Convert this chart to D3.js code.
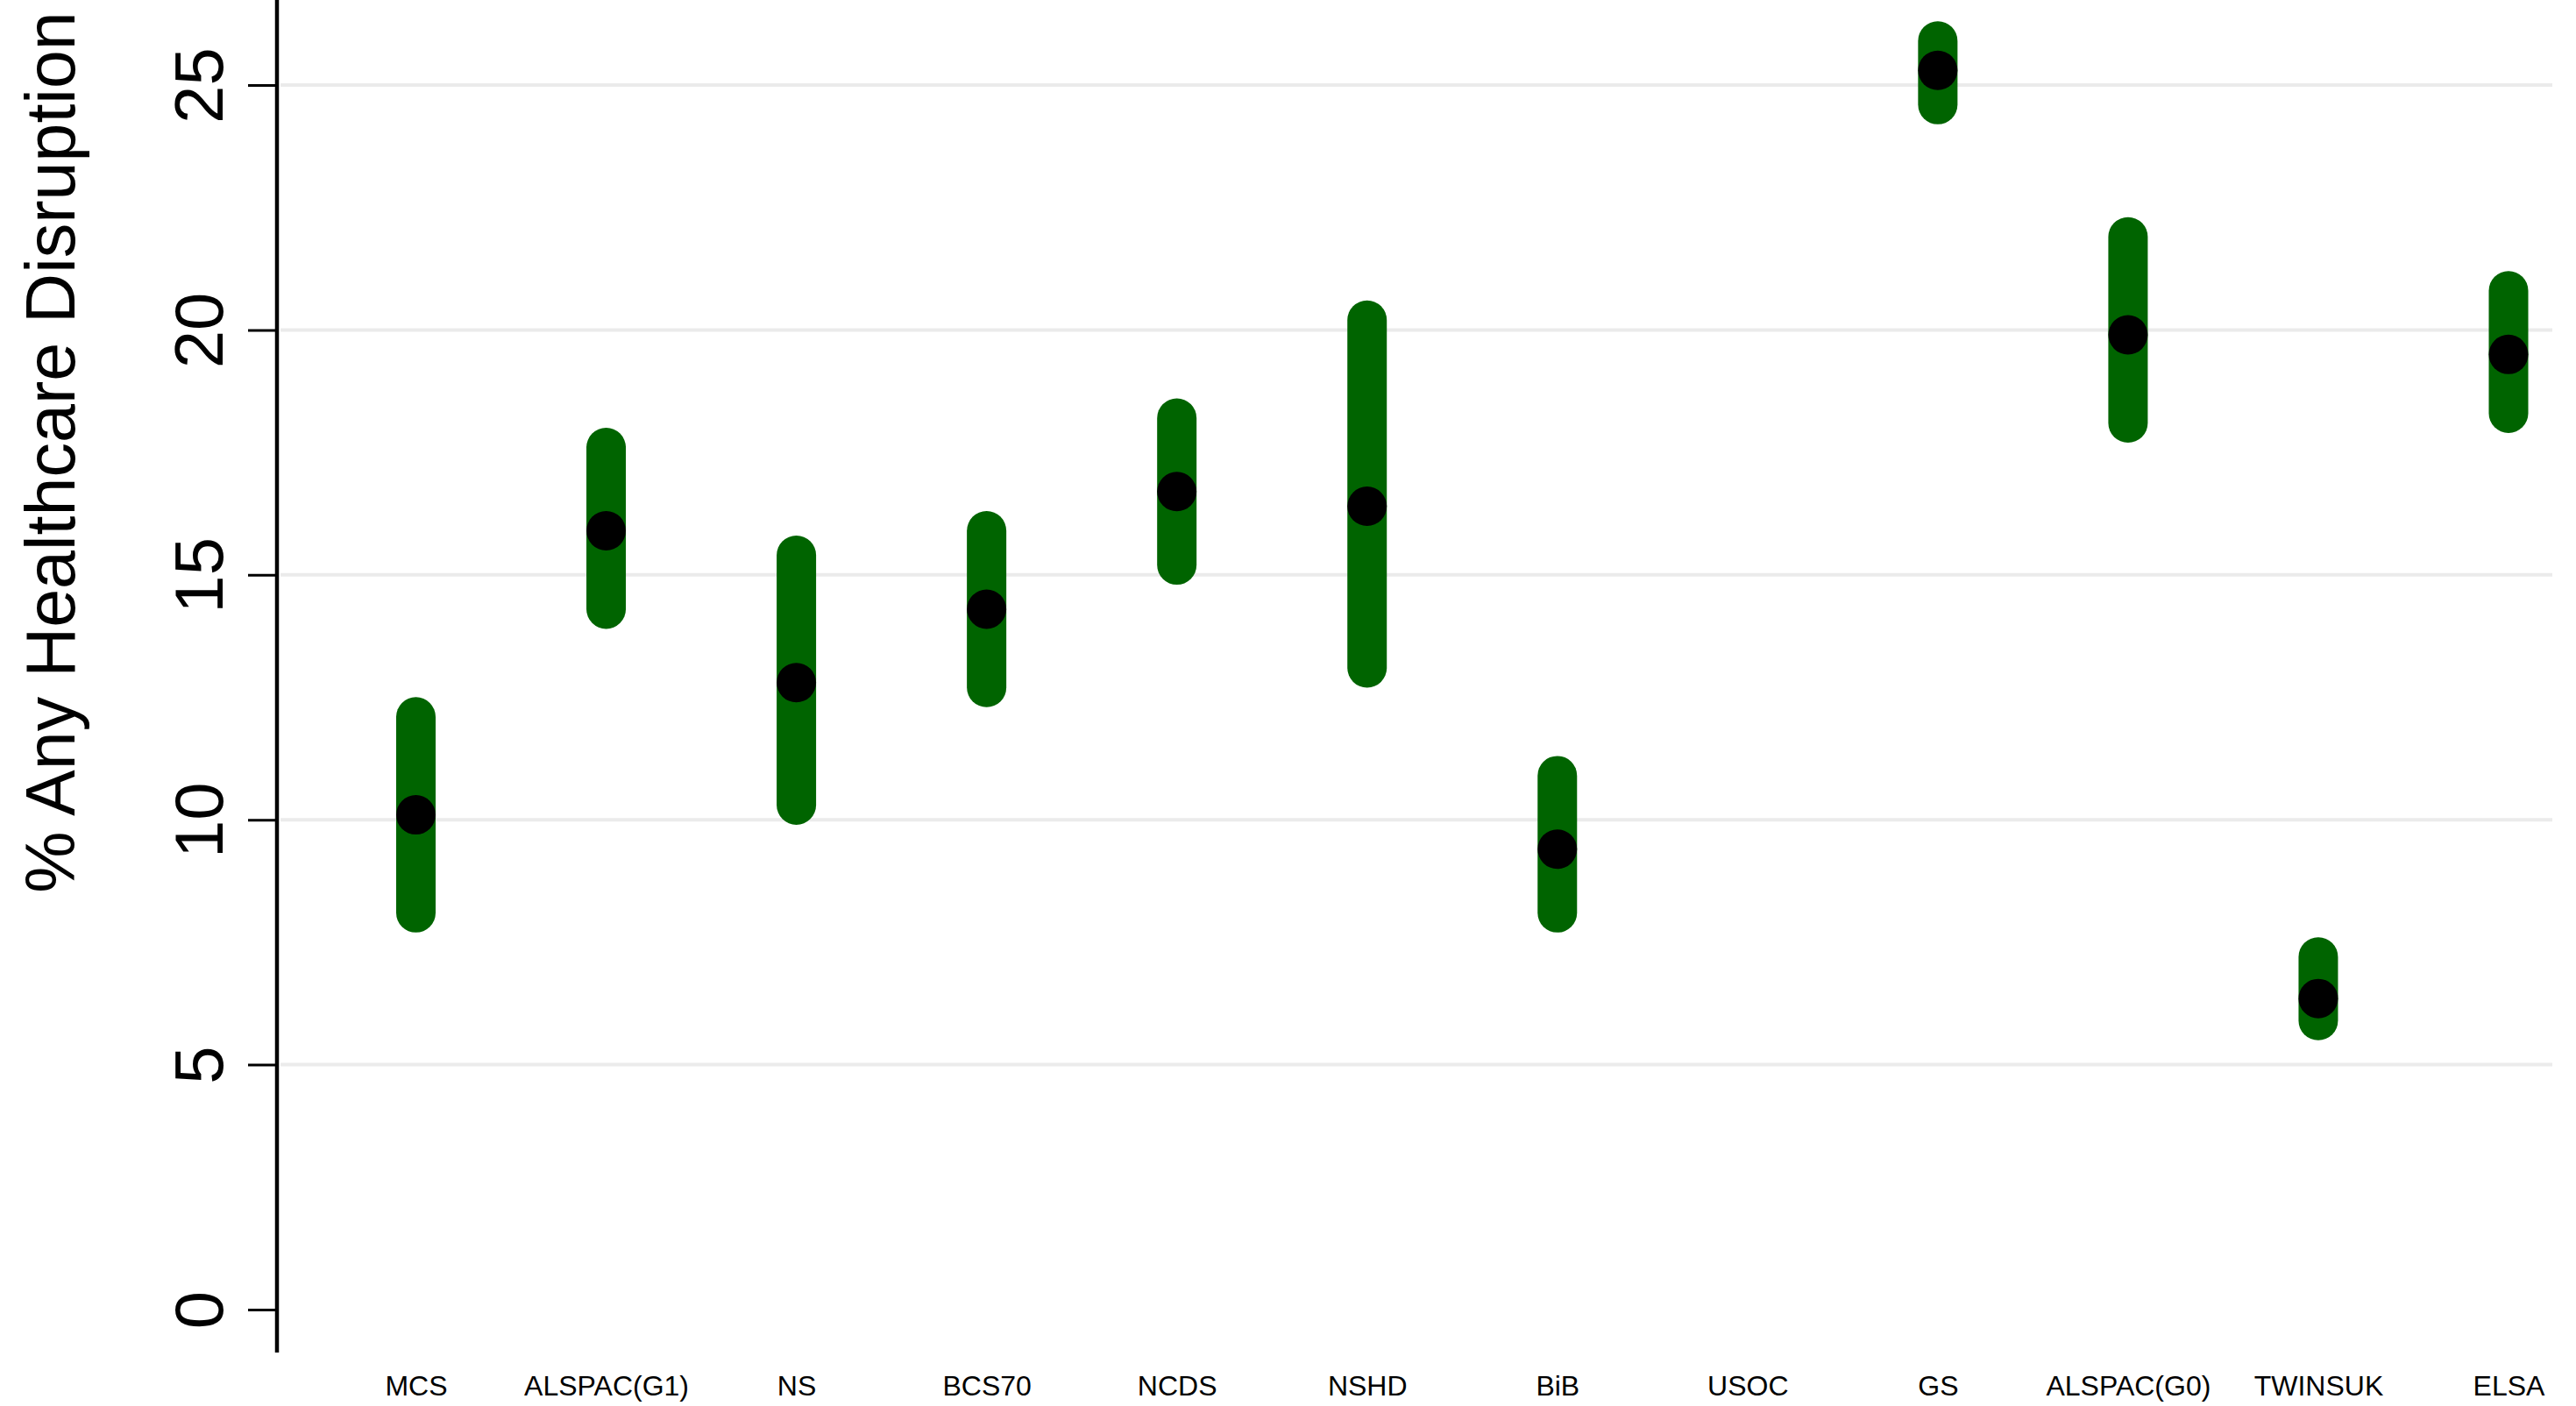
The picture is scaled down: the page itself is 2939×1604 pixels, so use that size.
<!DOCTYPE html>
<html>
<head>
<meta charset="utf-8">
<script src="https://cdn.jsdelivr.net/npm/d3@7"></script>
<style>
  html, body { margin: 0; padding: 0; background: #ffffff; }
  svg { display: block; }
  text { font-family: "Liberation Sans", Arial, sans-serif; fill: #000; }
</style>
</head>
<body>
<svg id="chart" width="2939" height="1604"></svg>
<script>
// ---- data ----
const categories = ["MCS", "ALSPAC(G1)", "NS", "BCS70", "NCDS", "NSHD", "BiB", "USOC", "GS", "ALSPAC(G0)", "TWINSUK", "ELSA"];
const estimates  = [10.1, 15.9, 12.8, 14.3, 16.7, 16.4, 9.4, null, 25.3, 19.9, 6.35, 19.5];
const ciLower    = [8.1, 14.3, 10.3, 12.7, 15.2, 13.1, 8.1, null, 24.6, 18.1, 5.9, 18.3];
const ciUpper    = [12.1, 17.6, 15.4, 15.9, 18.2, 20.2, 10.9, null, 25.9, 21.9, 7.2, 20.8];
const yTicks     = [0, 5, 10, 15, 20, 25];
const gridTicks  = [5, 10, 15, 20, 25];
const yTitle     = "% Any Healthcare Disruption";

const rows = categories.map((c, i) => ({ cat: c, est: estimates[i], lo: ciLower[i], hi: ciUpper[i] }))
                       .filter(d => d.est !== null);

const svg = d3.select("#chart");

const x = d3.scalePoint().domain(categories).range([474.5, 2862]);
const y = d3.scaleLinear().domain([0, 25]).range([1494, 97]);

const axisX = 316;

// gridlines
svg.append("g").selectAll("line").data(gridTicks).join("line")
  .attr("x1", axisX + 4).attr("x2", 2912)
  .attr("y1", d => y(d)).attr("y2", d => y(d))
  .attr("stroke", "#ebebeb").attr("stroke-width", 4);

// y axis
const yAxis = d3.axisLeft(y).tickValues(yTicks).tickSize(33).tickSizeOuter(0).tickFormat(d3.format("d"));
const gy = svg.append("g").attr("transform", `translate(${axisX},0)`).call(yAxis);
gy.select(".domain").remove();
gy.selectAll(".tick line").attr("stroke", "#000").attr("stroke-width", 3);
gy.selectAll(".tick text")
  .attr("x", null).attr("dy", null)
  .attr("transform", "translate(-62,0) rotate(-90)")
  .attr("text-anchor", "middle")
  .attr("font-size", 78)
  .attr("font-family", "Liberation Sans, Arial, sans-serif")
  .attr("fill", "#000");
svg.append("line")
  .attr("x1", axisX).attr("x2", axisX)
  .attr("y1", 0).attr("y2", 1543)
  .attr("stroke", "#000").attr("stroke-width", 4.5);

// y title
svg.append("text")
  .attr("transform", "translate(85,516) rotate(-90)")
  .attr("text-anchor", "middle")
  .attr("font-size", 79)
  .text(yTitle);

// x labels
const xAxis = d3.axisBottom(x).tickSize(0).tickSizeOuter(0);
const gx = svg.append("g").attr("transform", "translate(0,1560)").call(xAxis);
gx.select(".domain").remove();
gx.selectAll(".tick text")
  .attr("y", 32).attr("dy", null)
  .attr("font-size", 32)
  .attr("font-family", "Liberation Sans, Arial, sans-serif")
  .attr("fill", "#000");

// CI bars
svg.append("g").selectAll("line").data(rows).join("line")
  .attr("x1", d => x(d.cat)).attr("x2", d => x(d.cat))
  .attr("y1", d => y(d.hi)).attr("y2", d => y(d.lo))
  .attr("stroke", "#006400").attr("stroke-width", 45)
  .attr("stroke-linecap", "round");

// points
svg.append("g").selectAll("circle").data(rows).join("circle")
  .attr("cx", d => x(d.cat)).attr("cy", d => y(d.est))
  .attr("r", 22.5).attr("fill", "#000");
</script>
</body>
</html>
